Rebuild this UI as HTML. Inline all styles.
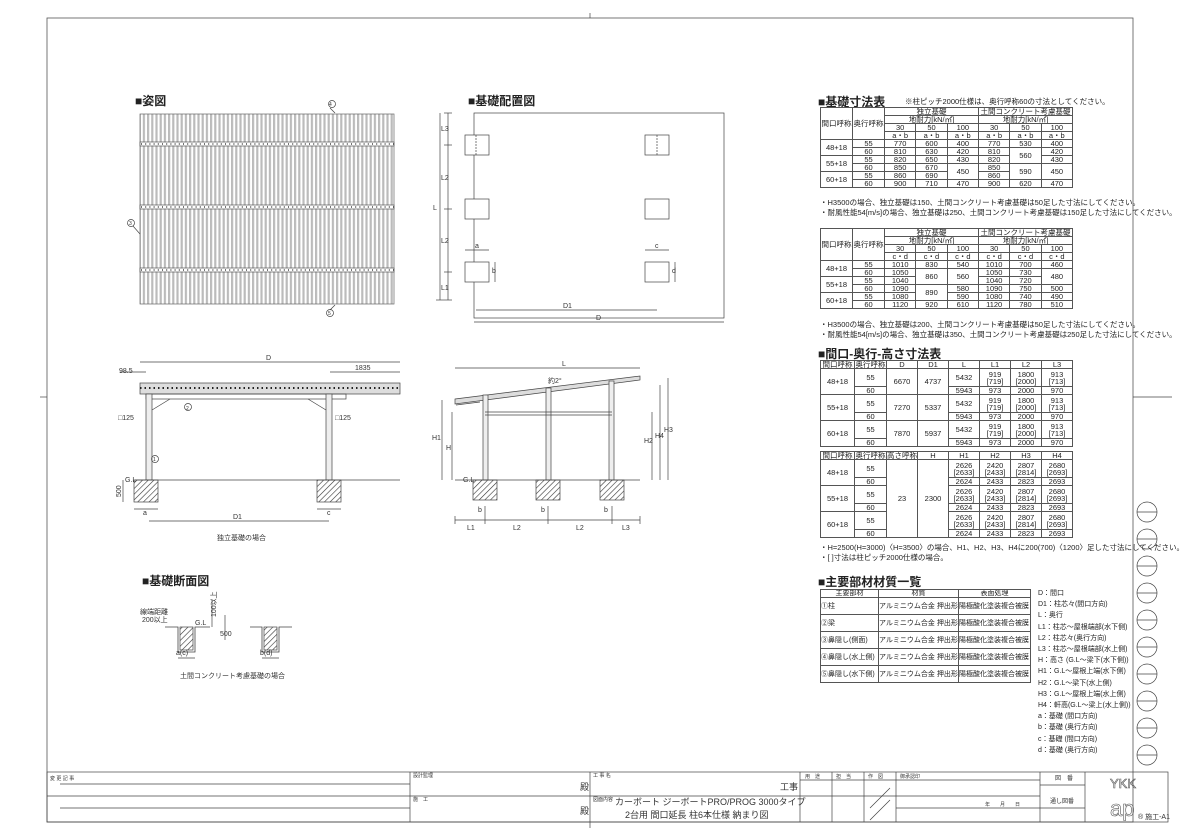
<!DOCTYPE html>
<html><head><meta charset="utf-8"><style>
body{margin:0;background:#fff;width:1181px;height:835px;overflow:hidden;position:relative;font-family:"Liberation Sans Narrow","Liberation Sans","Noto Sans CJK JP",sans-serif;color:#222}
svg{position:absolute;left:0;top:0}
.t{position:absolute;border-collapse:collapse;font-size:7.5px;line-height:7px;text-align:center;table-layout:fixed}
.t td{border:1px solid #555;padding:0;white-space:nowrap;overflow:hidden}
.h{position:absolute;font-size:12px;font-weight:bold;font-family:"Liberation Sans","Noto Sans CJK JP",sans-serif;white-space:nowrap}
.n{position:absolute;font-size:7.5px;white-space:nowrap;font-family:"Liberation Sans","Noto Sans CJK JP",sans-serif}
</style></head><body>
<svg width="1181" height="835" viewBox="0 0 1181 835" font-family="Liberation Sans, Noto Sans CJK JP, sans-serif" font-size="7" fill="none" stroke="#444" stroke-width="0.7">
<defs>
<pattern id="st" width="4.2" height="10" patternUnits="userSpaceOnUse"><rect width="4.2" height="10" fill="#fff" stroke="none"/><rect width="2.2" height="10" fill="#bbb" stroke="none"/></pattern>
<pattern id="hx" width="4" height="4" patternUnits="userSpaceOnUse" patternTransform="rotate(45)"><line x1="0" y1="0" x2="0" y2="4" stroke="#333" stroke-width="1.2"/></pattern>
</defs>
<rect x="47" y="18" width="1086" height="804" stroke="#555" stroke-width="0.8"/>
<line x1="40" y1="397" x2="47" y2="397"/><line x1="1133" y1="397" x2="1172" y2="397"/>
<line x1="590" y1="13" x2="590" y2="18"/><line x1="590" y1="822" x2="590" y2="828"/>
<g>
<circle cx="1147" cy="512" r="10"/><line x1="1137" y1="512" x2="1157" y2="512"/>
<circle cx="1147" cy="539" r="10"/><line x1="1137" y1="539" x2="1157" y2="539"/>
<circle cx="1147" cy="566" r="10"/><line x1="1137" y1="566" x2="1157" y2="566"/>
<circle cx="1147" cy="593" r="10"/><line x1="1137" y1="593" x2="1157" y2="593"/>
<circle cx="1147" cy="620" r="10"/><line x1="1137" y1="620" x2="1157" y2="620"/>
<circle cx="1147" cy="647" r="10"/><line x1="1137" y1="647" x2="1157" y2="647"/>
<circle cx="1147" cy="674" r="10"/><line x1="1137" y1="674" x2="1157" y2="674"/>
<circle cx="1147" cy="701" r="10"/><line x1="1137" y1="701" x2="1157" y2="701"/>
<circle cx="1147" cy="728" r="10"/><line x1="1137" y1="728" x2="1157" y2="728"/>
<circle cx="1147" cy="755" r="10"/><line x1="1137" y1="755" x2="1157" y2="755"/>
</g>
<rect x="47" y="772" width="1121" height="50"/>
<line x1="47" y1="796" x2="1040" y2="796"/>
<line x1="60" y1="784" x2="410" y2="784"/><line x1="60" y1="808" x2="410" y2="808"/>
<line x1="410" y1="772" x2="410" y2="822"/><line x1="590" y1="772" x2="590" y2="822"/>
<line x1="800" y1="772" x2="800" y2="822"/><line x1="832" y1="772" x2="832" y2="822"/>
<line x1="864" y1="772" x2="864" y2="822"/><line x1="896" y1="772" x2="896" y2="822"/>
<line x1="1040" y1="772" x2="1040" y2="822"/><line x1="1085" y1="772" x2="1085" y2="822"/>
<line x1="1040" y1="785" x2="1085" y2="785"/><line x1="1040" y1="808" x2="1085" y2="808"/>
<line x1="800" y1="780" x2="1040" y2="780"/><line x1="896" y1="808" x2="1040" y2="808"/>
<line x1="870" y1="808" x2="890" y2="788"/><line x1="870" y1="820" x2="890" y2="800"/>
<rect x="140" y="114" width="254" height="190" fill="url(#st)" stroke="#666"/>
<g stroke="#555" fill="#fff"><rect x="140" y="142" width="254" height="4"/><rect x="140" y="205" width="254" height="4"/><rect x="140" y="268" width="254" height="4"/></g>
<g stroke="#222" stroke-width="1.3" stroke-dasharray="1,3.2"><line x1="141" y1="144" x2="394" y2="144"/><line x1="141" y1="207" x2="394" y2="207"/><line x1="141" y1="270" x2="394" y2="270"/></g>
<line x1="330" y1="108" x2="335" y2="113"/><circle cx="332" cy="104" r="3.5"/>
<line x1="330" y1="310" x2="335" y2="305"/><circle cx="330" cy="313" r="3.5"/>
<line x1="133" y1="226" x2="140" y2="234"/><circle cx="131" cy="223" r="3.5"/>
<rect x="474" y="113" width="250" height="205"/>
<g fill="#fff"><rect x="465" y="135" width="24" height="20"/><rect x="645" y="135" width="24" height="20"/>
<rect x="465" y="199" width="24" height="20"/><rect x="645" y="199" width="24" height="20"/>
<rect x="465" y="262" width="24" height="20"/><rect x="645" y="262" width="24" height="20"/></g>
<line x1="476" y1="135" x2="476" y2="155" stroke-dasharray="2,1"/><line x1="657" y1="135" x2="657" y2="155" stroke-dasharray="2,1"/>
<line x1="448" y1="113" x2="448" y2="300"/><line x1="440" y1="113" x2="440" y2="300"/>
<g><line x1="444" y1="113" x2="452" y2="113"/><line x1="444" y1="145" x2="452" y2="145"/><line x1="444" y1="209" x2="452" y2="209"/><line x1="444" y1="272" x2="452" y2="272"/><line x1="436" y1="300" x2="452" y2="300"/></g>
<line x1="465" y1="250" x2="489" y2="250"/><line x1="645" y1="250" x2="669" y2="250"/>
<line x1="495" y1="262" x2="495" y2="282"/><line x1="675" y1="262" x2="675" y2="282"/>
<line x1="476" y1="310" x2="657" y2="310"/><line x1="474" y1="322" x2="724" y2="322"/>
<line x1="140" y1="362" x2="400" y2="362"/><line x1="330" y1="372" x2="400" y2="372"/>
<line x1="120" y1="372" x2="146" y2="372"/>
<rect x="140" y="383" width="260" height="11" fill="#ddd"/>
<line x1="140" y1="388" x2="400" y2="388" stroke-dasharray="1.5,3" stroke-width="2" stroke="#222"/>
<rect x="146" y="394" width="200" height="5"/>
<rect x="146" y="394" width="6" height="86" fill="#eee"/><rect x="326" y="394" width="6" height="86" fill="#eee"/>
<line x1="152" y1="410" x2="170" y2="399"/><line x1="326" y1="410" x2="308" y2="399"/>
<line x1="135" y1="480" x2="400" y2="480"/>
<rect x="134" y="480" width="24" height="22" fill="url(#hx)"/><rect x="317" y="480" width="24" height="22" fill="url(#hx)"/>
<line x1="123" y1="480" x2="123" y2="502"/>
<line x1="134" y1="509" x2="158" y2="509"/><line x1="317" y1="509" x2="341" y2="509"/>
<line x1="149" y1="521" x2="329" y2="521"/>
<circle cx="188" cy="407" r="3.5"/><circle cx="155" cy="459" r="3.5"/>
<line x1="455" y1="368" x2="640" y2="368"/>
<path d="M455 399 L640 376 L640 380 L455 404 Z" fill="#ddd"/>
<line x1="456" y1="405" x2="480" y2="402"/>
<rect x="483" y="395" width="5" height="85" fill="#eee"/><rect x="546" y="388" width="5" height="92" fill="#eee"/><rect x="609" y="381" width="5" height="99" fill="#eee"/>
<line x1="485" y1="412" x2="612" y2="412"/><line x1="485" y1="415" x2="612" y2="415"/>
<line x1="455" y1="480" x2="640" y2="480"/>
<rect x="473" y="480" width="24" height="20" fill="url(#hx)"/><rect x="536" y="480" width="24" height="20" fill="url(#hx)"/><rect x="600" y="480" width="24" height="20" fill="url(#hx)"/>
<line x1="442" y1="400" x2="442" y2="480"/><line x1="452" y1="412" x2="452" y2="480"/>
<line x1="652" y1="412" x2="652" y2="480"/><line x1="660" y1="385" x2="660" y2="480"/><line x1="668" y1="378" x2="668" y2="480"/>
<line x1="455" y1="520" x2="640" y2="520"/>
<g><line x1="455" y1="516" x2="455" y2="524"/><line x1="485" y1="506" x2="485" y2="524"/><line x1="548" y1="506" x2="548" y2="524"/><line x1="612" y1="506" x2="612" y2="524"/><line x1="640" y1="516" x2="640" y2="524"/></g>
<path d="M165 627 H178 V652 H195 V627 H210" stroke-width="0.8"/>
<rect x="180" y="627" width="13" height="23" fill="url(#hx)"/>
<path d="M250 627 H262 V652 H279 V627 H292" stroke-width="0.8"/>
<rect x="264" y="627" width="13" height="23" fill="url(#hx)"/>
<line x1="178" y1="658" x2="195" y2="658"/><line x1="262" y1="658" x2="279" y2="658"/>
<line x1="212" y1="600" x2="212" y2="627"/><line x1="225" y1="615" x2="225" y2="640"/>
<g fill="#333" stroke="none" font-size="7">
<text x="119" y="373">98.5</text><text x="266" y="360">D</text><text x="355" y="370">1835</text>
<text x="118" y="420">□125</text><text x="335" y="420">□125</text><text x="125" y="482">G.L</text>
<text x="113" y="495" transform="rotate(-90 118 492)">500</text>
<text x="143" y="515">a</text><text x="327" y="515">c</text><text x="233" y="519">D1</text>
<text x="217" y="540">独立基礎の場合</text>
<text x="186" y="410" font-size="5">2</text><text x="153" y="461" font-size="5">1</text>
<text x="329" y="106" font-size="5">4</text><text x="328" y="315" font-size="5">5</text><text x="129" y="225" font-size="5">3</text>
<text x="562" y="366">L</text><text x="548" y="383">約2°</text>
<text x="432" y="440">H1</text><text x="446" y="450">H</text>
<text x="644" y="443">H2</text><text x="655" y="438">H4</text><text x="664" y="432">H3</text>
<text x="463" y="482">G.L</text>
<text x="467" y="530">L1</text><text x="513" y="530">L2</text><text x="576" y="530">L2</text><text x="622" y="530">L3</text>
<text x="478" y="512">b</text><text x="541" y="512">b</text><text x="604" y="512">b</text>
<text x="433" y="210">L</text><text x="441" y="131">L3</text><text x="441" y="180">L2</text><text x="441" y="243">L2</text><text x="441" y="290">L1</text>
<text x="475" y="248">a</text><text x="655" y="248">c</text><text x="492" y="273">b</text><text x="672" y="273">d</text>
<text x="563" y="308">D1</text><text x="596" y="320">D</text>
<text x="140" y="614">線端距離</text><text x="142" y="622">200以上</text><text x="195" y="625">G.L</text>
<text x="205" y="614" transform="rotate(-90 212 610)">100以上</text><text x="220" y="636">500</text>
<text x="176" y="655">a(c)</text><text x="260" y="655">b(d)</text>
<text x="180" y="678">土間コンクリート考慮基礎の場合</text>
<text x="50" y="780" font-size="5">変 更 記 事</text>
<text x="413" y="777" font-size="5">設計監理</text><text x="413" y="801" font-size="5">施　工</text>
<text x="580" y="790" font-size="9">殿</text><text x="580" y="814" font-size="9">殿</text>
<text x="593" y="777" font-size="5">工 事 名</text><text x="593" y="801" font-size="5">図面内容</text>
<text x="780" y="790" font-size="9">工事</text>
<text x="615" y="805" font-size="9">カーボート ジーボートPRO/PROG 3000タイプ</text>
<text x="625" y="818" font-size="9">2台用 間口延長 柱6本仕様 納まり図</text>
<text x="805" y="778" font-size="5">用　途</text><text x="836" y="778" font-size="5">担　当</text><text x="868" y="778" font-size="5">作　図</text>
<text x="900" y="778" font-size="5">御承認印</text>
<text x="985" y="806" font-size="5">年　　月　　日</text>
<text x="1055" y="780" font-size="6">図　番</text><text x="1050" y="803" font-size="6">通し図番</text>
<text x="1110" y="788" font-size="13" fill="none" stroke="#555" stroke-width="0.6">YKK</text>
<text x="1110" y="816" font-size="22" fill="none" stroke="#555" stroke-width="0.6">ap</text>
<text x="1138" y="819" font-size="7">® 施工-A1</text>
</g>
</svg>

<div class="h" style="left:135px;top:92px">■姿図</div>
<div class="h" style="left:468px;top:92px">■基礎配置図</div>
<div class="h" style="left:142px;top:572px">■基礎断面図</div>
<div class="h" style="left:818px;top:93px">■基礎寸法表</div>
<div class="n" style="left:905px;top:96px">※柱ピッチ2000仕様は、奥行呼称60の寸法としてください。</div>
<div class="h" style="left:818px;top:345px">■間口-奥行-高さ寸法表</div>
<div class="h" style="left:818px;top:573px">■主要部材材質一覧</div>

<table class="t" style="left:820px;top:107px;width:253px">
<colgroup><col style="width:32px"><col style="width:32px"><col><col><col><col><col><col></colgroup>
<tr style="height:8px"><td rowspan="4">間口呼称</td><td rowspan="4">奥行呼称</td><td colspan="3">独立基礎</td><td colspan="3">土間コンクリート考慮基礎</td></tr>
<tr style="height:8px"><td colspan="3">地耐力[kN/㎡]</td><td colspan="3">地耐力[kN/㎡]</td></tr>
<tr style="height:8px"><td>30</td><td>50</td><td>100</td><td>30</td><td>50</td><td>100</td></tr>
<tr style="height:8px"><td>a・b</td><td>a・b</td><td>a・b</td><td>a・b</td><td>a・b</td><td>a・b</td></tr>
<tr style="height:8px"><td rowspan="2">48+18</td><td>55</td><td>770</td><td>600</td><td>400</td><td>770</td><td>530</td><td>400</td></tr>
<tr style="height:8px"><td>60</td><td>810</td><td>630</td><td>420</td><td>810</td><td rowspan="2">560</td><td>420</td></tr>
<tr style="height:8px"><td rowspan="2">55+18</td><td>55</td><td>820</td><td>650</td><td>430</td><td>820</td><td>430</td></tr>
<tr style="height:8px"><td>60</td><td>850</td><td>670</td><td rowspan="2">450</td><td>850</td><td rowspan="2">590</td><td rowspan="2">450</td></tr>
<tr style="height:8px"><td rowspan="2">60+18</td><td>55</td><td>860</td><td>690</td><td>860</td></tr>
<tr style="height:8px"><td>60</td><td>900</td><td>710</td><td>470</td><td>900</td><td>620</td><td>470</td></tr>
</table>
<div class="n" style="left:820px;top:197px">・H3500の場合、独立基礎は150、土間コンクリート考慮基礎は50足した寸法にしてください。</div>
<div class="n" style="left:820px;top:207px">・耐風性能54[m/s]の場合、独立基礎は250、土間コンクリート考慮基礎は150足した寸法にしてください。</div>

<table class="t" style="left:820px;top:228px;width:253px">
<colgroup><col style="width:32px"><col style="width:32px"><col><col><col><col><col><col></colgroup>
<tr style="height:8px"><td rowspan="4">間口呼称</td><td rowspan="4">奥行呼称</td><td colspan="3">独立基礎</td><td colspan="3">土間コンクリート考慮基礎</td></tr>
<tr style="height:8px"><td colspan="3">地耐力[kN/㎡]</td><td colspan="3">地耐力[kN/㎡]</td></tr>
<tr style="height:8px"><td>30</td><td>50</td><td>100</td><td>30</td><td>50</td><td>100</td></tr>
<tr style="height:8px"><td>c・d</td><td>c・d</td><td>c・d</td><td>c・d</td><td>c・d</td><td>c・d</td></tr>
<tr style="height:8px"><td rowspan="2">48+18</td><td>55</td><td>1010</td><td>830</td><td>540</td><td>1010</td><td>700</td><td>460</td></tr>
<tr style="height:8px"><td>60</td><td>1050</td><td rowspan="2">860</td><td rowspan="2">560</td><td>1050</td><td>730</td><td rowspan="2">480</td></tr>
<tr style="height:8px"><td rowspan="2">55+18</td><td>55</td><td>1040</td><td>1040</td><td>720</td></tr>
<tr style="height:8px"><td>60</td><td>1090</td><td rowspan="2">890</td><td>580</td><td>1090</td><td>750</td><td>500</td></tr>
<tr style="height:8px"><td rowspan="2">60+18</td><td>55</td><td>1080</td><td>590</td><td>1080</td><td>740</td><td>490</td></tr>
<tr style="height:8px"><td>60</td><td>1120</td><td>920</td><td>610</td><td>1120</td><td>780</td><td>510</td></tr>
</table>
<div class="n" style="left:820px;top:319px">・H3500の場合、独立基礎は200、土間コンクリート考慮基礎は50足した寸法にしてください。</div>
<div class="n" style="left:820px;top:329px">・耐風性能54[m/s]の場合、独立基礎は350、土間コンクリート考慮基礎は250足した寸法にしてください。</div>

<table class="t" style="left:820px;top:360px;width:253px">
<colgroup><col style="width:34px"><col style="width:32px"><col><col><col><col><col><col></colgroup>
<tr style="height:8px"><td>間口呼称</td><td>奥行呼称</td><td>D</td><td>D1</td><td>L</td><td>L1</td><td>L2</td><td>L3</td></tr>
<tr style="height:18px"><td rowspan="2">48+18</td><td>55</td><td rowspan="2">6670</td><td rowspan="2">4737</td><td>5432</td><td>919<br>[719]</td><td>1800<br>[2000]</td><td>913<br>[713]</td></tr>
<tr style="height:8px"><td>60</td><td>5943</td><td>973</td><td>2000</td><td>970</td></tr>
<tr style="height:18px"><td rowspan="2">55+18</td><td>55</td><td rowspan="2">7270</td><td rowspan="2">5337</td><td>5432</td><td>919<br>[719]</td><td>1800<br>[2000]</td><td>913<br>[713]</td></tr>
<tr style="height:8px"><td>60</td><td>5943</td><td>973</td><td>2000</td><td>970</td></tr>
<tr style="height:18px"><td rowspan="2">60+18</td><td>55</td><td rowspan="2">7870</td><td rowspan="2">5937</td><td>5432</td><td>919<br>[719]</td><td>1800<br>[2000]</td><td>913<br>[713]</td></tr>
<tr style="height:8px"><td>60</td><td>5943</td><td>973</td><td>2000</td><td>970</td></tr>
</table>

<table class="t" style="left:820px;top:451px;width:253px">
<colgroup><col style="width:34px"><col style="width:32px"><col><col><col><col><col><col></colgroup>
<tr style="height:8px"><td>間口呼称</td><td>奥行呼称</td><td>高さ呼称</td><td>H</td><td>H1</td><td>H2</td><td>H3</td><td>H4</td></tr>
<tr style="height:18px"><td rowspan="2">48+18</td><td>55</td><td rowspan="6">23</td><td rowspan="6">2300</td><td>2626<br>[2633]</td><td>2420<br>[2433]</td><td>2807<br>[2814]</td><td>2680<br>[2693]</td></tr>
<tr style="height:8px"><td>60</td><td>2624</td><td>2433</td><td>2823</td><td>2693</td></tr>
<tr style="height:18px"><td rowspan="2">55+18</td><td>55</td><td>2626<br>[2633]</td><td>2420<br>[2433]</td><td>2807<br>[2814]</td><td>2680<br>[2693]</td></tr>
<tr style="height:8px"><td>60</td><td>2624</td><td>2433</td><td>2823</td><td>2693</td></tr>
<tr style="height:18px"><td rowspan="2">60+18</td><td>55</td><td>2626<br>[2633]</td><td>2420<br>[2433]</td><td>2807<br>[2814]</td><td>2680<br>[2693]</td></tr>
<tr style="height:8px"><td>60</td><td>2624</td><td>2433</td><td>2823</td><td>2693</td></tr>
</table>
<div class="n" style="left:820px;top:542px">・H=2500(H=3000)〈H=3500〉の場合、H1、H2、H3、H4に200(700)〈1200〉足した寸法にしてください。</div>
<div class="n" style="left:820px;top:552px">・[ ]寸法は柱ピッチ2000仕様の場合。</div>

<table class="t" style="left:820px;top:589px;width:211px;text-align:left;font-size:7px">
<colgroup><col style="width:58px"><col style="width:80px"><col></colgroup>
<tr style="height:8px"><td style="text-align:center">主要部材</td><td style="text-align:center">材質</td><td style="text-align:center">表面処理</td></tr>
<tr style="height:17px"><td>①柱</td><td>アルミニウム合金 押出形材</td><td>陽極酸化塗装複合被膜</td></tr>
<tr style="height:17px"><td>②梁</td><td>アルミニウム合金 押出形材</td><td>陽極酸化塗装複合被膜</td></tr>
<tr style="height:17px"><td>③鼻隠し(側面)</td><td>アルミニウム合金 押出形材</td><td>陽極酸化塗装複合被膜</td></tr>
<tr style="height:17px"><td>④鼻隠し(水上側)</td><td>アルミニウム合金 押出形材</td><td>陽極酸化塗装複合被膜</td></tr>
<tr style="height:17px"><td>⑤鼻隠し(水下側)</td><td>アルミニウム合金 押出形材</td><td>陽極酸化塗装複合被膜</td></tr>
</table>
<div class="n" style="left:1038px;top:588px;line-height:11.2px;font-size:7px">D：間口<br>D1：柱芯々(間口方向)<br>L：奥行<br>L1：柱芯～屋根端部(水下側)<br>L2：柱芯々(奥行方向)<br>L3：柱芯～屋根端部(水上側)<br>H：高さ (G.L～梁下(水下側))<br>H1：G.L～屋根上端(水下側)<br>H2：G.L～梁下(水上側)<br>H3：G.L～屋根上端(水上側)<br>H4：軒高(G.L～梁上(水上側))<br>a：基礎 (間口方向)<br>b：基礎 (奥行方向)<br>c：基礎 (間口方向)<br>d：基礎 (奥行方向)</div>
</body></html>
